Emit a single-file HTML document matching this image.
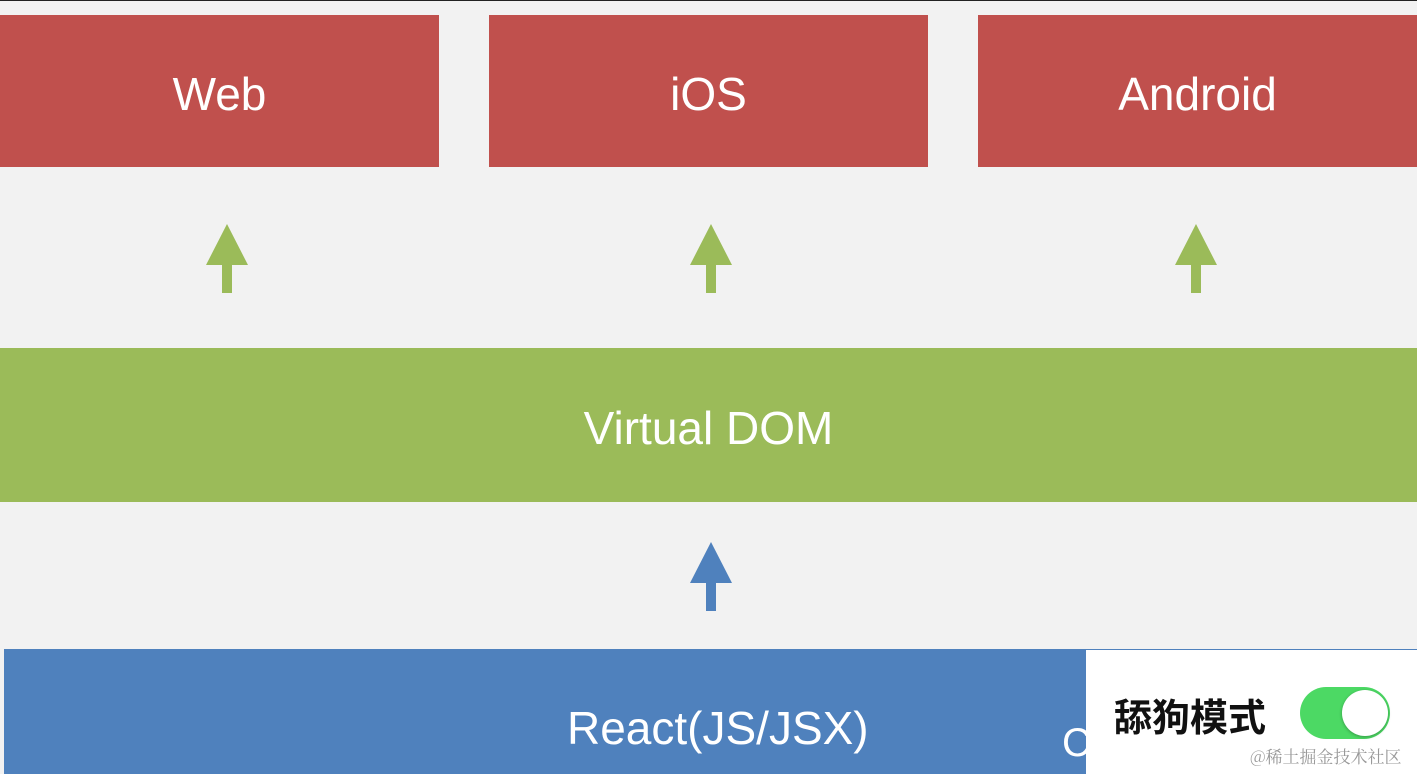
<!DOCTYPE html>
<html><head><meta charset="utf-8"><style>
html,body{margin:0;width:1417px;height:774px;background:#f2f2f2;position:relative;overflow:hidden;font-family:"Liberation Sans","DejaVu Sans",sans-serif}
.b{position:absolute;color:#fff;display:flex;align-items:center;justify-content:center;font-size:46px;padding-top:6px;box-sizing:border-box}
.r{background:#c0504d;top:15px;height:152px;width:439px}
</style></head><body>
<div style="position:absolute;top:0;left:0;width:1417px;height:1px;background:#222"></div>
<div class="b r" style="left:0">Web</div>
<div class="b r" style="left:489px">iOS</div>
<div class="b r" style="left:978px">Android</div>
<svg style="position:absolute;left:0;top:0" width="1417" height="774">
<g fill="#9bbb59">
<polygon points="227,224 248,265 232,265 232,293 222,293 222,265 206,265"/>
<polygon points="711,224 732,265 716,265 716,293 706,293 706,265 690,265"/>
<polygon points="1196,224 1217,265 1201,265 1201,293 1191,293 1191,265 1175,265"/>
</g>
<polygon fill="#4f81bd" points="711,542 732,583 716,583 716,611 706,611 706,583 690,583"/>
</svg>
<div class="b" style="background:#9bbb59;left:0;top:348px;width:1417px;height:154px">Virtual DOM</div>
<div class="b" style="background:#4f81bd;left:4px;top:649px;width:1413px;height:125px;justify-content:flex-start"><span style="position:absolute;left:563px;top:52px">React(JS/JSX)</span><span style="position:absolute;left:1058px;top:72px;font-size:40px">C</span></div>
<div style="position:absolute;left:1086px;top:650px;width:331px;height:124px;background:#fff">
<div style="position:absolute;left:28px;top:40px;font-size:38px;font-weight:bold;color:#111;font-family:'Noto Sans CJK SC',sans-serif;line-height:50px;white-space:nowrap">舔狗模式</div>
<div style="position:absolute;left:214px;top:37px;width:90px;height:52px;border-radius:26px;background:#4cd964"></div>
<div style="position:absolute;left:256px;top:40px;width:46px;height:46px;border-radius:50%;background:#fff;box-shadow:0 1px 3px rgba(0,0,0,.3)"></div>
<div style="position:absolute;left:164px;top:94px;font-size:17px;color:#999;font-family:'Noto Serif CJK SC',serif;white-space:nowrap;line-height:24px">@稀土掘金技术社区</div>
</div>
</body></html>
